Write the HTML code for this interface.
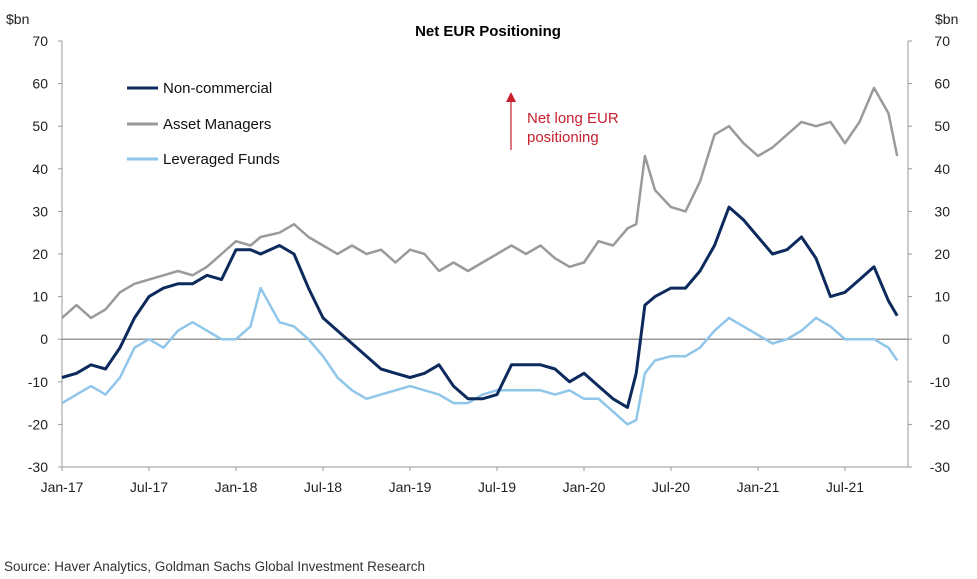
<!DOCTYPE html>
<html><head><meta charset="utf-8"><style>
body{margin:0;background:#fff;}
svg{display:block;font-family:"Liberation Sans",sans-serif;}
</style></head><body>
<svg id="chart" width="977" height="579">
<text x="488" y="36" text-anchor="middle" font-size="15" font-weight="bold" fill="#000">Net EUR Positioning</text>
<text x="6" y="24" font-size="14" fill="#222">$bn</text>
<text x="935" y="24" font-size="14" fill="#222">$bn</text>
<g id="axes"></g>
<g id="series"></g>
<g>
<line x1="511" y1="150" x2="511" y2="100" stroke="#c8202f" stroke-width="1.2"/>
<polygon points="506,102 516,102 511,92" fill="#c8202f"/>
<text x="527" y="123" font-size="15" fill="#c8202f">Net long EUR</text>
<text x="527" y="142" font-size="15" fill="#c8202f">positioning</text>
</g>
<g>
<g><line x1="127" y1="88" x2="158" y2="88" stroke="#0d2a5c" stroke-width="3"/><text x="163" y="93" font-size="15" fill="#111">Non-commercial</text></g>
<g><line x1="127" y1="124" x2="158" y2="124" stroke="#9a9a9a" stroke-width="3"/><text x="163" y="129" font-size="15" fill="#111">Asset Managers</text></g>
<g><line x1="127" y1="159" x2="158" y2="159" stroke="#8fc6ea" stroke-width="3"/><text x="163" y="164" font-size="15" fill="#111">Leveraged Funds</text></g>
</g>
<text x="4" y="571" font-size="13.5" fill="#333">Source: Haver Analytics, Goldman Sachs Global Investment Research</text>
</svg>
<script>
const months = [0,1,2,3,4,5,6,7,8,9,10,11,12,13,13.7,15,16,17,18,19,20,21,22,23,24,25,26,27,28,29,30,31,32,33,34,35,36,37,38,39,39.6,40.2,40.9,42,43,44,45,46,47,48,49,50,51,52,53,54,55,56,57,57.6];
const nonCommercial = [-9,-8,-6,-7,-2,5,10,12,13,13,15,14,21,21,20,22,20,12,5,2,-1,-4,-7,-8,-9,-8,-6,-11,-14,-14,-13,-6,-6,-6,-7,-10,-8,-11,-14,-16,-8,8,10,12,12,16,22,31,28,24,20,21,24,19,10,11,14,17,9,5.5];
const assetManagers = [5,8,5,7,11,13,14,15,16,15,17,20,23,22,24,25,27,24,22,20,22,20,21,18,21,20,16,18,16,18,20,22,20,22,19,17,18,23,22,26,27,43,35,31,30,37,48,50,46,43,45,48,51,50,51,46,51,59,53,43];
const leveragedFunds = [-15,-13,-11,-13,-9,-2,0,-2,2,4,2,0,0,3,12,4,3,0,-4,-9,-12,-14,-13,-12,-11,-12,-13,-15,-15,-13,-12,-12,-12,-12,-13,-12,-14,-14,-17,-20,-19,-8,-5,-4,-4,-2,2,5,3,1,-1,0,2,5,3,0,0,0,-2,-5];
const yTicks = [70,60,50,40,30,20,10,0,-10,-20,-30];
const xTickLabels = ["Jan-17","Jul-17","Jan-18","Jul-18","Jan-19","Jul-19","Jan-20","Jul-20","Jan-21","Jul-21"];
const xTickMonths = [0,6,12,18,24,30,36,42,48,54];

const NS="http://www.w3.org/2000/svg";
const X0=62, X1=908, Y70=41, Y_30=467;
const xs = m => X0 + m*(174/12);
const ys = v => Y70 + (70-v)*(Y_30-Y70)/100;
function mk(tag, attrs, parent){const e=document.createElementNS(NS,tag);for(const k in attrs)e.setAttribute(k,attrs[k]);parent.appendChild(e);return e;}
const axes=document.getElementById('axes');
let el=mk('line',{x1:X0,y1:Y70,x2:X0,y2:Y_30,stroke:'#999','stroke-width':1},axes);


el=mk('line',{x1:X1,y1:Y70,x2:X1,y2:Y_30,stroke:'#999','stroke-width':1},axes);


el=mk('line',{x1:X0,y1:Y_30,x2:X1,y2:Y_30,stroke:'#999','stroke-width':1},axes);


el=mk('line',{x1:X0,y1:ys(0),x2:X1,y2:ys(0),stroke:'#999','stroke-width':1.5},axes);


yTicks.forEach(v=>{
  const y=ys(v);
  mk('line',{x1:X0-4,y1:y,x2:X0,y2:y,stroke:'#999'},axes);
  mk('line',{x1:X1,y1:y,x2:X1+4,y2:y,stroke:'#999'},axes);
  let t=mk('text',{x:X0-14,y:y+5,'text-anchor':'end','font-size':14,fill:'#222'},axes);t.textContent=v;
  
  
  t=mk('text',{x:X1+42,y:y+5,'text-anchor':'end','font-size':14,fill:'#222'},axes);t.textContent=v;
  
  
});
xTickLabels.forEach((l,i)=>{
  const x=xs(xTickMonths[i]);
  mk('line',{x1:x,y1:Y_30,x2:x,y2:Y_30+4,stroke:'#999'},axes);
  const t=mk('text',{x:x,y:Y_30+25,'text-anchor':'middle','font-size':14,fill:'#222'},axes);t.textContent=l;
  
  
});
const ser=document.getElementById('series');
function line(vals,color,w,name){
  const d=vals.map((v,i)=>(i?'L':'M')+xs(months[i]).toFixed(1)+','+ys(v).toFixed(1)).join('');
  const p=mk('path',{d:d,fill:'none',stroke:color,'stroke-width':w,'stroke-linejoin':'round'},ser);
  
  
}
line(assetManagers,'#9a9a9a',2.5,'asset-managers-line');
line(leveragedFunds,'#8fc6ea',2.5,'leveraged-funds-line');
line(nonCommercial,'#0d2a5c',3,'non-commercial-line');
</script>
</body></html>
